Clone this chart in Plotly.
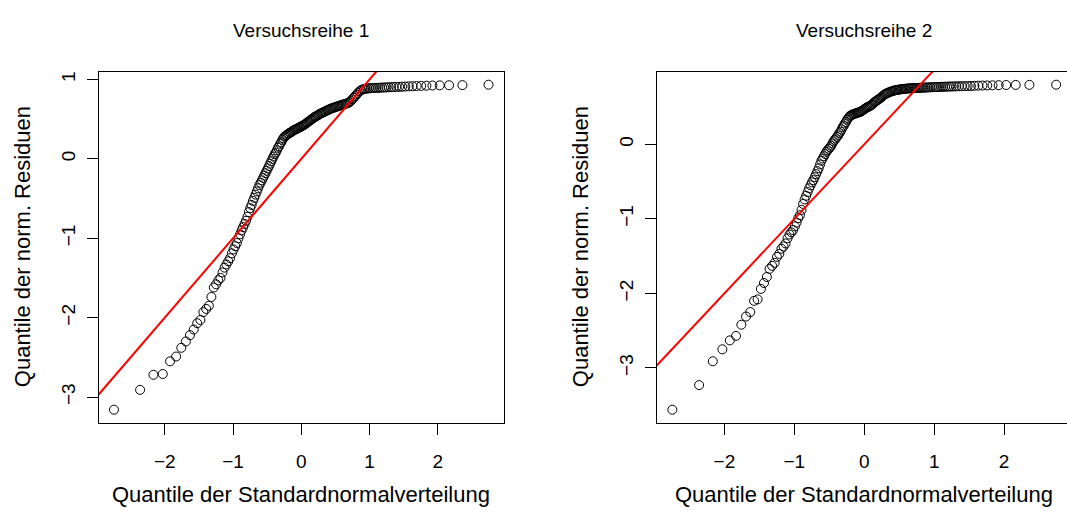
import plotly.graph_objects as go
from statistics import NormalDist

# ---------------- data (sorted residual quantiles) ----------------
titles = ["Versuchsreihe 1", "Versuchsreihe 2"]
x_title = "Quantile der Standardnormalverteilung"
y_title = "Quantile der norm. Residuen"

resid_1 = [
    -3.16, -2.91, -2.72, -2.71, -2.55, -2.49, -2.38, -2.30, -2.22, -2.15,
    -2.07, -2.03, -1.93, -1.89, -1.85, -1.74, -1.62, -1.58, -1.53, -1.50,
    -1.43, -1.37, -1.33, -1.29, -1.25, -1.19, -1.14, -1.10, -1.06, -1.00,
    -0.95, -0.90, -0.86, -0.82, -0.78, -0.73, -0.67, -0.62, -0.58, -0.53,
    -0.49, -0.45, -0.41, -0.37, -0.33, -0.30, -0.27, -0.24, -0.21, -0.18,
    -0.15, -0.12, -0.09, -0.06, -0.03, 0.00, 0.03, 0.06, 0.08, 0.11,
    0.14, 0.16, 0.19, 0.21, 0.24, 0.26, 0.28, 0.29, 0.30, 0.31,
    0.32, 0.33, 0.335, 0.345, 0.355, 0.36, 0.37, 0.375, 0.38, 0.39,
    0.395, 0.40, 0.41, 0.415, 0.425, 0.43, 0.44, 0.45, 0.46, 0.47,
    0.48, 0.49, 0.50, 0.51, 0.52, 0.53, 0.535, 0.545, 0.55, 0.56,
    0.57, 0.575, 0.58, 0.59, 0.595, 0.60, 0.61, 0.615, 0.62, 0.63,
    0.635, 0.64, 0.645, 0.65, 0.655, 0.66, 0.665, 0.67, 0.675, 0.68,
    0.685, 0.69, 0.695, 0.70, 0.705, 0.715, 0.73, 0.75, 0.77, 0.79,
    0.81, 0.83, 0.85, 0.865, 0.875, 0.88, 0.884, 0.887, 0.889, 0.891,
    0.893, 0.894, 0.895, 0.896, 0.897, 0.899, 0.900, 0.901, 0.903, 0.904,
    0.906, 0.907, 0.908, 0.910, 0.912, 0.914, 0.916, 0.918, 0.920, 0.922,
    0.925, 0.927, 0.928, 0.930, 0.935,
]

resid_2 = [
    -3.56, -3.23, -2.91, -2.75, -2.63, -2.57, -2.42, -2.31, -2.25, -2.10,
    -2.08, -1.94, -1.86, -1.78, -1.67, -1.63, -1.59, -1.51, -1.47, -1.40,
    -1.37, -1.33, -1.26, -1.21, -1.18, -1.15, -1.10, -1.05, -0.99, -0.95,
    -0.88, -0.80, -0.74, -0.69, -0.64, -0.59, -0.55, -0.51, -0.48, -0.44,
    -0.40, -0.36, -0.32, -0.27, -0.22, -0.19, -0.16, -0.13, -0.10, -0.08,
    -0.06, -0.04, -0.02, 0.01, 0.04, 0.06, 0.08, 0.10, 0.12, 0.15,
    0.17, 0.20, 0.23, 0.25, 0.28, 0.30, 0.33, 0.35, 0.37, 0.385,
    0.39, 0.40, 0.405, 0.41, 0.415, 0.42, 0.425, 0.43, 0.435, 0.44,
    0.45, 0.46, 0.47, 0.48, 0.49, 0.50, 0.505, 0.51, 0.52, 0.53,
    0.54, 0.56, 0.57, 0.58, 0.59, 0.60, 0.61, 0.62, 0.63, 0.645,
    0.66, 0.67, 0.68, 0.685, 0.69, 0.70, 0.705, 0.71, 0.715, 0.72,
    0.725, 0.728, 0.73, 0.733, 0.736, 0.738, 0.74, 0.742, 0.744, 0.746,
    0.748, 0.75, 0.751, 0.752, 0.753, 0.754, 0.755, 0.756, 0.757, 0.758,
    0.759, 0.76, 0.761, 0.762, 0.763, 0.764, 0.765, 0.766, 0.767, 0.768,
    0.769, 0.77, 0.771, 0.772, 0.773, 0.774, 0.775, 0.776, 0.777, 0.778,
    0.779, 0.78, 0.781, 0.782, 0.783, 0.785, 0.787, 0.789, 0.79, 0.792,
    0.794, 0.796, 0.797, 0.798, 0.80,
]

x_ticks = [-2, -1, 0, 1, 2]
y_ticks_1 = [-3, -2, -1, 0, 1]
y_ticks_2 = [-3, -2, -1, 0]

# reference line  y = intercept + slope * x
ref_intercept = 0.0
ref_slope = 1.0


def theoretical_quantiles(n):
    # qnorm(ppoints(n)) as used by R's qqnorm
    a = 3 / 8 if n <= 10 else 0.5
    nd = NormalDist()
    return [nd.inv_cdf((i + 1 - a) / (n + 1 - 2 * a)) for i in range(n)]


def r_range(v):
    lo, hi = min(v), max(v)
    d = (hi - lo) * 0.04
    return [lo - d, hi + d]


W, H = 1067, 512
FONT = "Liberation Sans, Arial, Helvetica, sans-serif"

# panel boxes in pixels (left, right); right panel is cut by the page edge
box_1 = (99, 503.5)
box_2 = (657, 1071.5)
box_top, box_bottom = 71.7, 422.7

fig = go.Figure()

series = [resid_1, resid_2]
boxes = [box_1, box_2]
y_ticks = [y_ticks_1, y_ticks_2]

annotations = []
for k, (res, box, yt) in enumerate(zip(series, boxes, y_ticks)):
    xs = theoretical_quantiles(len(res))
    ys = sorted(res)
    xa = "x" if k == 0 else "x2"
    ya = "y" if k == 0 else "y2"
    xr = r_range(xs)
    yr = r_range(ys)

    fig.add_trace(go.Scatter(
        x=xs, y=ys, mode="markers", xaxis=xa, yaxis=ya,
        marker=dict(symbol="circle-open", size=9, color="black",
                    line=dict(width=1, color="black")),
        showlegend=False, hoverinfo="skip"))

    line_x = [xr[0] - 1, xr[1] + 1]
    line_y = [ref_intercept + ref_slope * v for v in line_x]
    fig.add_trace(go.Scatter(
        x=line_x, y=line_y, mode="lines", xaxis=xa, yaxis=ya,
        line=dict(color="#ff0000", width=2),
        showlegend=False, hoverinfo="skip"))

    left, right = box
    dom_right = min(right, W)
    vis_frac = (dom_right - left) / (right - left)
    x_range = [xr[0], xr[0] + (xr[1] - xr[0]) * vis_frac]

    axis_common = dict(
        showgrid=False, zeroline=False, showline=True, linecolor="black",
        linewidth=1, ticks="outside", ticklen=11, tickwidth=1,
        tickcolor="black", tickfont=dict(family=FONT, size=19, color="black"),
    )
    xdict = dict(axis_common, domain=[left / W, dom_right / W], range=x_range,
                 tickvals=x_ticks, anchor=ya, mirror=True,
                 ticklabelstandoff=10)
    ydict = dict(axis_common, domain=[1 - box_bottom / H, 1 - box_top / H],
                 range=yr, tickvals=yt, anchor=xa, tickangle=-90,
                 mirror=(k == 0), ticklabelstandoff=4)
    if k == 0:
        fig.update_layout(xaxis=xdict, yaxis=ydict)
    else:
        fig.update_layout(xaxis2=xdict, yaxis2=ydict)

    cx = (left + right) / 2
    annotations.append(dict(text=titles[k], x=cx / W, y=1 - 30 / H,
                            xref="paper", yref="paper", showarrow=False,
                            xanchor="center", yanchor="middle",
                            font=dict(family=FONT, size=19, color="black")))
    annotations.append(dict(text=x_title, x=cx / W, y=1 - 494 / H,
                            xref="paper", yref="paper", showarrow=False,
                            xanchor="center", yanchor="middle",
                            font=dict(family=FONT, size=22, color="black")))
    annotations.append(dict(text=y_title, x=(left - 77) / W,
                            y=1 - (box_top + box_bottom) / 2 / H,
                            xref="paper", yref="paper", showarrow=False,
                            textangle=-90, xanchor="center", yanchor="middle",
                            font=dict(family=FONT, size=22, color="black")))

fig.update_layout(
    width=W, height=H, margin=dict(l=0, r=0, t=0, b=0),
    paper_bgcolor="white", plot_bgcolor="white",
    annotations=annotations, showlegend=False,
)

fig.write_html(
    "out.html",
    config={"displayModeBar": False, "staticPlot": True},
    post_script="document.body.style.margin='0';document.body.style.overflow='hidden';",
)
